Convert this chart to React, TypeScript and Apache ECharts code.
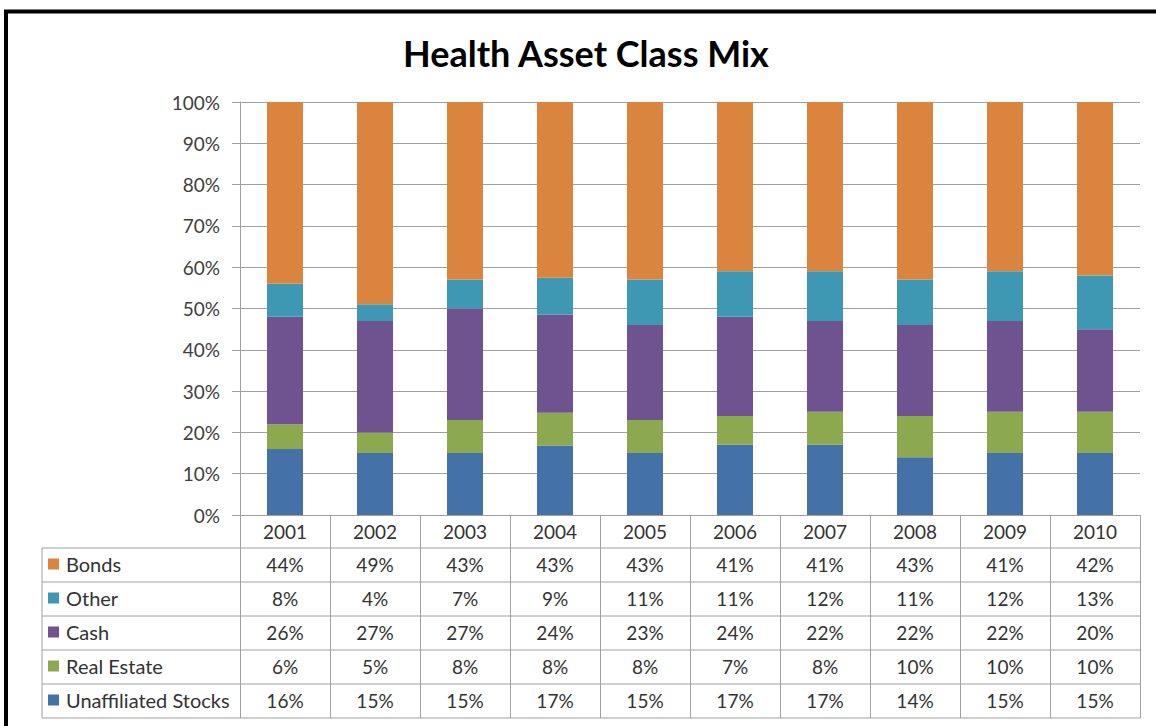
import React, { useEffect, useRef } from "react";
import * as echarts from "echarts";

const years = ["2001", "2002", "2003", "2004", "2005", "2006", "2007", "2008", "2009", "2010"];
const bonds = [44, 49, 43, 43, 43, 41, 41, 43, 41, 42];
const other = [8, 4, 7, 9, 11, 11, 12, 11, 12, 13];
const cash = [26, 27, 27, 24, 23, 24, 22, 22, 22, 20];
const realEstate = [6, 5, 8, 8, 8, 7, 8, 10, 10, 10];
const stocks = [16, 15, 15, 17, 15, 17, 17, 14, 15, 15];

const seriesNames = ["Bonds", "Other", "Cash", "Real Estate", "Unaffiliated Stocks"];
const seriesColors = ["#DB843D", "#3F98B3", "#6F5391", "#8CA94F", "#4472A8"];
const tableRows = [bonds, other, cash, realEstate, stocks];

const W = 1156;
const H = 726;
const gridLeft = 240;
const gridRight = 1140;
const gridTop = 102;
const gridBottom = 515;
const headerH = 33;
const rowH = 34;
const tableLeft = 42;
const FONT = "Lato, 'Open Sans', sans-serif";

export default function App() {
  const ref = useRef<HTMLDivElement>(null);
  useEffect(() => {
    if (!ref.current) return;
    const chart = echarts.init(ref.current, null, { renderer: "svg" });
    const totals = years.map((_, i) => tableRows.reduce((s, r) => s + r[i], 0));
    const pct = (arr: number[]) => arr.map((v, i) => (v / totals[i]) * 100);

    // stacking order bottom -> top
    const stackOrder = [4, 3, 2, 1, 0];
    const series = stackOrder.map((k) => ({
      name: seriesNames[k],
      type: "bar",
      stack: "total",
      barWidth: 36,
      data: pct(tableRows[k]),
      itemStyle: { color: seriesColors[k] },
      xAxisIndex: 0,
      yAxisIndex: 0,
    }));

    const tableTop = gridBottom + headerH;
    const tableBottom = tableTop + rowH * tableRows.length;

    const rowAxes = tableRows.map((row, i) => ({
      type: "category",
      data: years,
      gridIndex: 0,
      position: "bottom",
      offset: headerH + rowH * i,
      axisLine: { show: false },
      axisTick: { show: false },
      splitLine: { show: false },
      axisLabel: {
        margin: 5,
        fontSize: 19,
        lineHeight: 22,
        color: "#333",
        fontFamily: FONT,
        interval: 0,
        formatter: (_v: string, idx: number) => row[idx] + "%",
      },
    }));

    const graphics: any[] = [
      {
        type: "rect",
        shape: { x: 6, y: 11.5, width: 1300, height: 900 },
        style: { fill: "none", stroke: "#000", lineWidth: 4 },
        silent: true,
      },
      {
        type: "line",
        shape: { x1: tableLeft, y1: tableTop, x2: tableLeft, y2: tableBottom },
        style: { stroke: "#a0a0a0", lineWidth: 1 },
      },
    ];
    for (let i = 0; i <= tableRows.length; i++) {
      const y = tableTop + rowH * i;
      graphics.push({
        type: "line",
        shape: { x1: tableLeft, y1: y, x2: gridRight, y2: y },
        style: { stroke: "#a0a0a0", lineWidth: 1 },
      });
    }

    chart.setOption({
      animation: false,
      backgroundColor: "#fff",
      title: {
        text: "Health Asset Class Mix",
        left: 581,
        textAlign: "center",
        top: 30,
        textStyle: { fontSize: 36, fontWeight: "bold", color: "#000", fontFamily: FONT },
      },
      legend: {
        orient: "vertical",
        left: tableLeft + 6,
        top: tableTop + 5,
        padding: 0,
        itemGap: 12,
        itemWidth: 11,
        itemHeight: 11,
        icon: "rect",
        data: seriesNames,
        selectedMode: false,
        textStyle: { fontSize: 20, lineHeight: 22, color: "#333", fontFamily: FONT, padding: [0, 0, 0, 2] },
      },
      grid: {
        left: gridLeft,
        right: W - gridRight,
        top: gridTop,
        bottom: H - gridBottom,
        containLabel: false,
      },
      xAxis: [
        {
          type: "category",
          data: years,
          position: "bottom",
          axisLine: { show: true, lineStyle: { color: "#a0a0a0", width: 1 } },
          axisTick: {
            show: true,
            length: headerH + rowH * tableRows.length,
            lineStyle: { color: "#a0a0a0", width: 1 },
          },
          axisLabel: {
            margin: 5,
            fontSize: 19,
            lineHeight: 22,
            color: "#333",
            fontFamily: FONT,
            interval: 0,
          },
          splitLine: { show: false },
        },
        ...rowAxes,
      ],
      yAxis: {
        type: "value",
        min: 0,
        max: 100,
        interval: 10,
        axisLine: { show: true, lineStyle: { color: "#a0a0a0" } },
        axisTick: { show: true, length: 8, lineStyle: { color: "#a0a0a0" } },
        axisLabel: {
          formatter: "{value}%",
          fontSize: 19,
          color: "#404040",
          fontFamily: FONT,
          margin: 20,
        },
        splitLine: { show: true, lineStyle: { color: "#a0a0a0", width: 1 } },
      },
      graphic: graphics,
      series,
    });
    return () => chart.dispose();
  }, []);
  return (
    <div
      ref={ref}
      style={{ position: "fixed", left: 0, top: 0, width: W, height: H, background: "#fff" }}
    />
  );
}
